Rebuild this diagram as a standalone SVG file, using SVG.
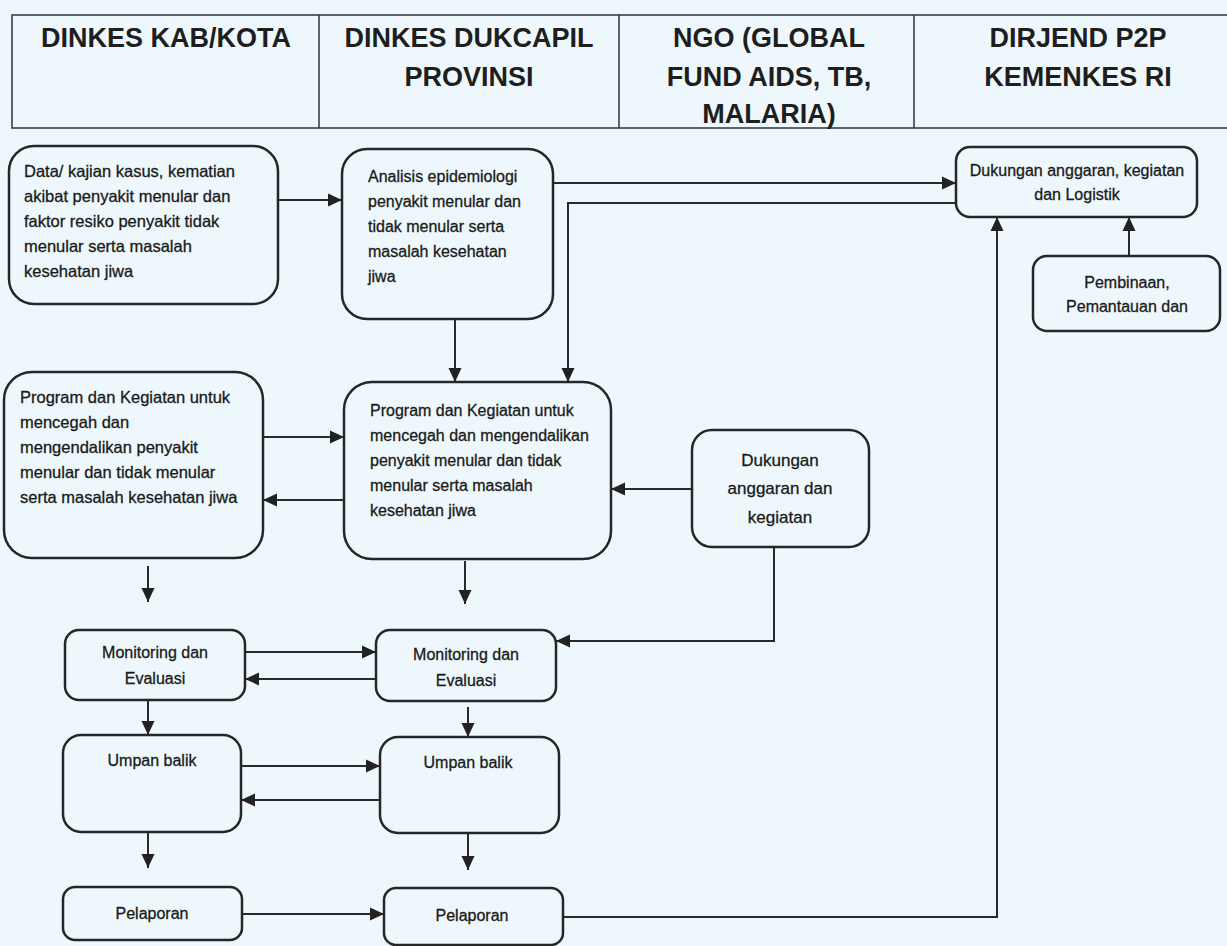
<svg xmlns="http://www.w3.org/2000/svg" width="1227" height="946" viewBox="0 0 1227 946">
<defs>
<marker id="ah" markerUnits="userSpaceOnUse" markerWidth="15" markerHeight="15" refX="14" refY="7.5" orient="auto">
<path d="M0,1 L14,7.5 L0,14 z" fill="#222"/>
</marker>
<style>
.bg{fill:#eef8fc}
.hd{fill:none;stroke:#333;stroke-width:1.5}
.ht{font-family:"Liberation Sans",Arial,sans-serif;font-weight:bold;font-size:27px;fill:#1e1e1e;text-anchor:middle}
.box{fill:#eef8fc;stroke:#262626;stroke-width:2.5}
.t{font-family:"Liberation Sans",Arial,sans-serif;font-size:16px;fill:#1a1a1a;stroke:#1a1a1a;stroke-width:0.3}
.c{text-anchor:middle}
.l{font-size:16.5px}
.big{font-size:17px}
.ln{fill:none;stroke:#2a2a2a;stroke-width:2;marker-end:url(#ah)}
</style>
</defs>
<rect class="bg" x="0" y="0" width="1227" height="946"/>

<g id="header">
<path class="hd" d="M1232,15 H12 V128 H1232 M319,15 V128 M619,15 V128 M914,15 V128"/>
<text class="ht" x="166" y="47">DINKES KAB/KOTA</text>
<text class="ht" x="469" y="47">DINKES DUKCAPIL</text>
<text class="ht" x="469" y="86">PROVINSI</text>
<text class="ht" x="769" y="47">NGO (GLOBAL</text>
<text class="ht" x="769" y="86">FUND AIDS, TB,</text>
<text class="ht" x="769" y="123">MALARIA)</text>
<text class="ht" x="1078" y="47">DIRJEND P2P</text>
<text class="ht" x="1078" y="86">KEMENKES RI</text>
</g>

<g id="connectors">
<path class="ln" d="M278,200 H342"/>
<path class="ln" d="M553,183 H956"/>
<path class="ln" d="M956,203 H568 V382"/>
<path class="ln" d="M455,319 V382"/>
<path class="ln" d="M1129,256 V217"/>
<path class="ln" d="M563,917 H997 V217"/>
<path class="ln" d="M263,437 H344"/>
<path class="ln" d="M344,500 H263"/>
<path class="ln" d="M692,489 H611"/>
<path class="ln" d="M774,547 V641 H556"/>
<path class="ln" d="M148,566 V602"/>
<path class="ln" d="M465,561 V604"/>
<path class="ln" d="M245,652 H376"/>
<path class="ln" d="M376,679 H245"/>
<path class="ln" d="M148,700 V735"/>
<path class="ln" d="M468,707 V737"/>
<path class="ln" d="M241,766 H380"/>
<path class="ln" d="M380,800 H241"/>
<path class="ln" d="M148,832 V868"/>
<path class="ln" d="M468,833 V870"/>
<path class="ln" d="M242,914 H384"/>
</g>

<g id="n-data">
<rect class="box" x="9" y="146" width="269" height="158" rx="25"/>
<text class="t l" x="24" y="177">Data/ kajian kasus, kematian</text>
<text class="t l" x="24" y="202">akibat penyakit menular dan</text>
<text class="t l" x="24" y="227">faktor resiko penyakit tidak</text>
<text class="t l" x="24" y="252">menular serta masalah</text>
<text class="t l" x="24" y="277">kesehatan jiwa</text>
</g>

<g id="n-analisis">
<rect class="box" x="342" y="149" width="211" height="170" rx="25"/>
<text class="t" x="368" y="182">Analisis epidemiologi</text>
<text class="t" x="368" y="207">penyakit menular dan</text>
<text class="t" x="368" y="232">tidak menular serta</text>
<text class="t" x="368" y="257">masalah kesehatan</text>
<text class="t" x="368" y="282">jiwa</text>
</g>

<g id="n-dukungan-logistik">
<rect class="box" x="956" y="147" width="241" height="70" rx="14"/>
<text class="t c" x="1077" y="176">Dukungan anggaran, kegiatan</text>
<text class="t c" x="1077" y="200">dan Logistik</text>
</g>

<g id="n-pembinaan">
<rect class="box" x="1033" y="256" width="187" height="75" rx="14"/>
<text class="t c" x="1127" y="288">Pembinaan,</text>
<text class="t c" x="1127" y="312">Pemantauan dan</text>
</g>

<g id="n-program-kab">
<rect class="box" x="4" y="372" width="259" height="186" rx="28"/>
<text class="t l" x="20" y="403">Program dan Kegiatan untuk</text>
<text class="t l" x="20" y="428">mencegah dan</text>
<text class="t l" x="20" y="453">mengendalikan penyakit</text>
<text class="t l" x="20" y="478">menular dan tidak menular</text>
<text class="t l" x="20" y="503">serta masalah kesehatan jiwa</text>
</g>

<g id="n-program-prov">
<rect class="box" x="344" y="382" width="267" height="177" rx="28"/>
<text class="t" x="370" y="416">Program dan Kegiatan untuk</text>
<text class="t" x="370" y="441">mencegah dan mengendalikan</text>
<text class="t" x="370" y="466">penyakit menular dan tidak</text>
<text class="t" x="370" y="491">menular serta masalah</text>
<text class="t" x="370" y="516">kesehatan jiwa</text>
</g>

<g id="n-dukungan-ngo">
<rect class="box" x="692" y="430" width="177" height="117" rx="20"/>
<text class="t c big" x="780" y="466">Dukungan</text>
<text class="t c big" x="780" y="494">anggaran dan</text>
<text class="t c big" x="780" y="523">kegiatan</text>
</g>

<g id="n-monev-kab">
<rect class="box" x="65" y="630" width="180" height="70" rx="14"/>
<text class="t c" x="155" y="658">Monitoring dan</text>
<text class="t c" x="155" y="684">Evaluasi</text>
</g>

<g id="n-monev-prov">
<rect class="box" x="376" y="630" width="180" height="71" rx="14"/>
<text class="t c" x="466" y="660">Monitoring dan</text>
<text class="t c" x="466" y="686">Evaluasi</text>
</g>

<g id="n-umpan-kab">
<rect class="box" x="63" y="735" width="178" height="97" rx="18"/>
<text class="t c" x="152" y="766">Umpan balik</text>
</g>

<g id="n-umpan-prov">
<rect class="box" x="380" y="737" width="179" height="96" rx="18"/>
<text class="t c" x="468" y="768">Umpan balik</text>
</g>

<g id="n-pelaporan-kab">
<rect class="box" x="63" y="887" width="179" height="53" rx="12"/>
<text class="t c" x="152" y="919">Pelaporan</text>
</g>

<g id="n-pelaporan-prov">
<rect class="box" x="384" y="888" width="179" height="57" rx="12"/>
<text class="t c" x="472" y="921">Pelaporan</text>
</g>
</svg>
